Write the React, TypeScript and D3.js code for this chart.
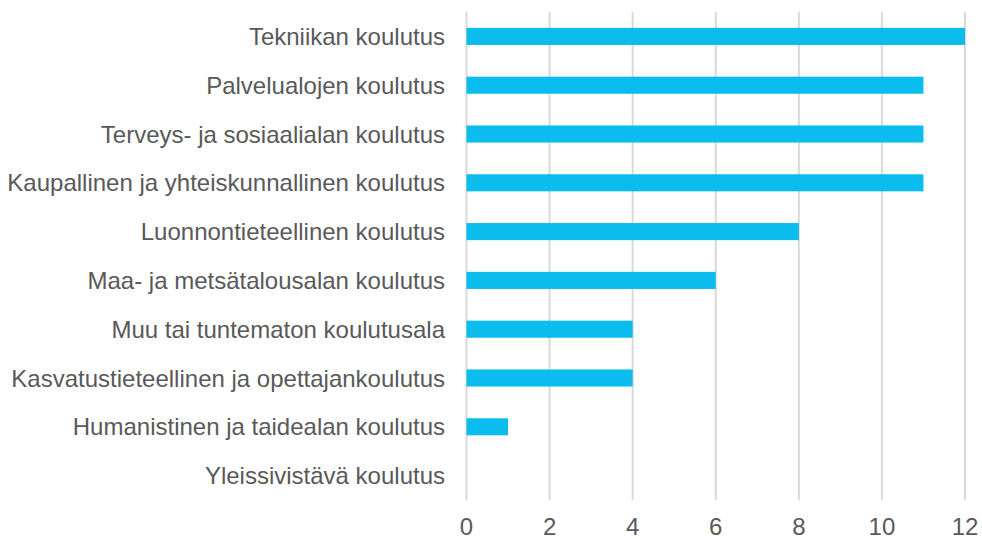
import React from "react";
import * as d3 from "d3";

// categories top to bottom
const categories = [
  "Tekniikan koulutus",
  "Palvelualojen koulutus",
  "Terveys- ja sosiaalialan koulutus",
  "Kaupallinen ja yhteiskunnallinen koulutus",
  "Luonnontieteellinen koulutus",
  "Maa- ja metsätalousalan koulutus",
  "Muu tai tuntematon koulutusala",
  "Kasvatustieteellinen ja opettajankoulutus",
  "Humanistinen ja taidealan koulutus",
  "Yleissivistävä koulutus",
];
const values = [12, 11, 11, 11, 8, 6, 4, 4, 1, 0];
const xTicks = [0, 2, 4, 6, 8, 10, 12];

const width = 982, height = 539;
const left = 466.5, right = 965, top = 12, bottom = 500;
const font = "'Liberation Sans', Arial, sans-serif";
const textColor = "#595959";

export default function App() {
  const x = d3.scaleLinear().domain([0, 12]).range([left, right]);
  const y = d3.scaleBand().domain(categories).range([top, bottom]).paddingInner(0.65).paddingOuter(0.325);

  return (
    <svg width={width} height={height} style={{ position: "absolute", left: 0, top: 0, background: "#fff" }}>
      {/* gridlines */}
      {xTicks.map(t => (
        <line key={t} x1={x(t)} x2={x(t)} y1={top} y2={bottom} stroke="#d9d9d9" strokeWidth={2} />
      ))}
      {/* bars */}
      {categories.map((c, i) => (
        <rect key={c} x={x(0)} y={y(c)} width={x(values[i]) - x(0)} height={y.bandwidth()} fill="#0bbcee" />
      ))}
      {/* category labels */}
      {categories.map(c => (
        <text key={c} x={445} y={(y(c) as number) + y.bandwidth() / 2} textAnchor="end" dominantBaseline="central"
          fontFamily={font} fontSize={24} fill={textColor}>{c}</text>
      ))}
      {/* tick labels */}
      {xTicks.map(t => (
        <text key={t} x={x(t)} y={526} textAnchor="middle" dominantBaseline="central"
          fontFamily={font} fontSize={24} fill={textColor}>{t}</text>
      ))}
    </svg>
  );
}
